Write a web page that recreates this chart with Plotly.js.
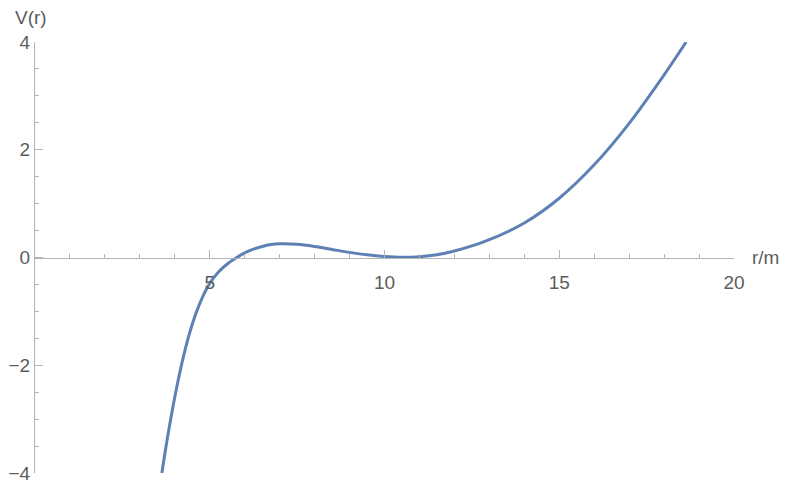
<!DOCTYPE html>
<html>
<head>
<meta charset="utf-8">
<script src="https://cdn.plot.ly/plotly-3.0.1.min.js"></script>
<style>
  html, body { margin: 0; padding: 0; background: #fff; }
  #plot { width: 789px; height: 491px; }
</style>
</head>
<body>
<div id="plot"></div>
<script>
// values
var rValues = [3.63, 3.8, 4.0, 4.2, 4.4, 4.6, 4.8, 5.0, 5.25, 5.5, 5.75, 6.0, 6.25, 6.5, 6.75, 7.0,
               7.5, 8.0, 8.5, 9.0, 9.5, 10.0, 10.5, 11.0, 11.5, 12, 12.5, 13, 14, 15, 16, 17, 18, 18.63];
var vValues = [-4, -3.31, -2.59, -1.97, -1.455, -1.045, -0.725, -0.48, -0.27, -0.12, -0.01, 0.085, 0.155, 0.205, 0.24, 0.255,
               0.245, 0.205, 0.15, 0.095, 0.05, 0.02, 0.005, 0.015, 0.05, 0.12, 0.215, 0.33, 0.64, 1.10, 1.72, 2.49, 3.39, 4.0];
var xTicks = [5, 10, 15, 20];
var yTicks = [-4, -2, 0, 2, 4];
var yTickText = ['\u22124', '\u22122', '0', '2', '4'];

var axisColor = '#b4b4b4';
var textColor = '#5c5c5c';
var fontFam = 'Liberation Sans, Arial, sans-serif';

var data = [{
  x: rValues,
  y: vValues,
  mode: 'lines',
  type: 'scatter',
  line: {color: '#5E81B5', width: 3, shape: 'spline', smoothing: 1}
}];

var layout = {
  width: 789,
  height: 491,
  showlegend: false,
  paper_bgcolor: '#fff',
  plot_bgcolor: '#fff',
  margin: {l: 35, r: 55, t: 42, b: 18},
  font: {family: fontFam, size: 19, color: textColor},
  xaxis: {
    range: [0, 20],
    anchor: 'free',
    position: 0.5,
    showgrid: false,
    zeroline: false,
    showline: true,
    linecolor: axisColor,
    linewidth: 1,
    tickmode: 'array',
    tickvals: xTicks,
    ticks: 'inside',
    ticklen: 8,
    tickcolor: axisColor,
    ticklabelstandoff: 8,
    minor: {dtick: 1, tick0: 0, ticks: 'inside', ticklen: 4, tickcolor: axisColor, showgrid: false}
  },
  yaxis: {
    range: [-4, 4],
    showgrid: false,
    zeroline: false,
    showline: true,
    linecolor: axisColor,
    linewidth: 1,
    tickmode: 'array',
    tickvals: yTicks,
    ticktext: yTickText,
    ticks: 'inside',
    ticklen: 8,
    tickcolor: axisColor,
    minor: {dtick: 0.5, tick0: 0, ticks: 'inside', ticklen: 4, tickcolor: axisColor, showgrid: false}
  },
  annotations: [
    {text: 'V(r)', xref: 'paper', yref: 'paper', x: 0, y: 1, xanchor: 'center', yanchor: 'bottom',
     xshift: -4, yshift: 12, showarrow: false, font: {size: 19, color: textColor}},
    {text: 'r/m', xref: 'x', yref: 'y', x: 20, y: 0, xanchor: 'left', yanchor: 'middle',
     xshift: 16, showarrow: false, font: {size: 19, color: textColor}}
  ]
};

Plotly.newPlot('plot', data, layout, {displayModeBar: false, staticPlot: true});
</script>
</body>
</html>
